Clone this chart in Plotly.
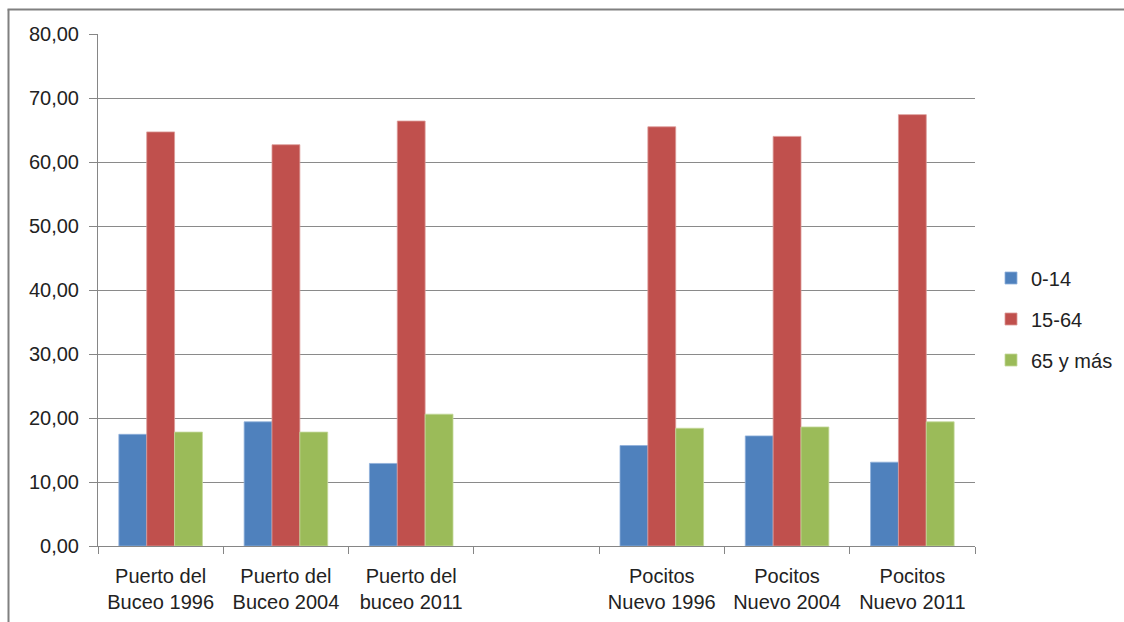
import plotly.graph_objects as go

categories = ["Puerto del<br>Buceo 1996", "Puerto del<br>Buceo 2004", "Puerto del<br>buceo 2011", " ",
              "Pocitos<br>Nuevo 1996", "Pocitos<br>Nuevo 2004", "Pocitos<br>Nuevo 2011"]
series_names = ["0-14", "15-64", "65 y más"]
v_0_14 = [17.45, 19.4, 12.9, None, 15.7, 17.2, 13.1]
v_15_64 = [64.7, 62.7, 66.4, None, 65.5, 64.0, 67.4]
v_65 = [17.8, 17.8, 20.6, None, 18.4, 18.6, 19.4]
y_ticks = [0, 10, 20, 30, 40, 50, 60, 70, 80]

colors = ["#4F81BD", "#C0504D", "#9BBB59"]
edges = ["#8FB0DA", "#DC9A98", "#C4D89A"]

W, H = 1124, 622
L, R, T, B = 98, 975, 34, 546

fig = go.Figure()
for i, (name, vals) in enumerate(zip(series_names, [v_0_14, v_15_64, v_65])):
    fig.add_trace(go.Bar(
        x=categories, y=vals, name=name,
        marker=dict(color=colors[i], line=dict(color=edges[i], width=0.8)),
        legendgroup=f"g{i}",
    ))

font = dict(family="Liberation Sans, Arial, sans-serif", size=20, color="#222222")
fig.update_layout(
    width=W, height=H,
    margin=dict(l=L, r=W - R, t=T, b=H - B, autoexpand=False),
    paper_bgcolor="white", plot_bgcolor="white",
    barmode="group", bargap=0.333, bargroupgap=0,
    separators=",.",
    font=font,
    showlegend=True,
    legend=dict(xref="container", yref="container", x=991 / W, xanchor="left",
                y=1 - 319 / H, yanchor="middle",
                font=font, tracegroupgap=12, bgcolor="rgba(0,0,0,0)"),
    xaxis=dict(
        type="category", categoryorder="array", categoryarray=categories,
        showline=True, linecolor="#868686", linewidth=1,
        ticks="outside", tickson="boundaries", ticklen=7, tickcolor="#868686",
        showgrid=False, tickfont=font, ticklabelstandoff=12,
    ),
    yaxis=dict(
        range=[0, 80], tickvals=y_ticks, tickformat=".2f",
        showline=True, linecolor="#868686", linewidth=1,
        ticks="outside", ticklen=8, tickcolor="#868686",
        showgrid=True, gridcolor="#8a8a8a", gridwidth=1,
        zeroline=False, tickfont=font, ticklabelstandoff=6,
    ),
    shapes=[
        dict(type="line", xref="paper", yref="paper",
             x0=(8.5 - L) / (R - L), x1=(8.5 - L) / (R - L),
             y0=(B - 9.5) / (B - T), y1=(B - 640) / (B - T),
             line=dict(color="#808080", width=2)),
        dict(type="line", xref="paper", yref="paper",
             x0=(7.5 - L) / (R - L), x1=(1140 - L) / (R - L),
             y0=(B - 9.5) / (B - T), y1=(B - 9.5) / (B - T),
             line=dict(color="#808080", width=2)),
    ],
)

fig.write_html("out.html")
